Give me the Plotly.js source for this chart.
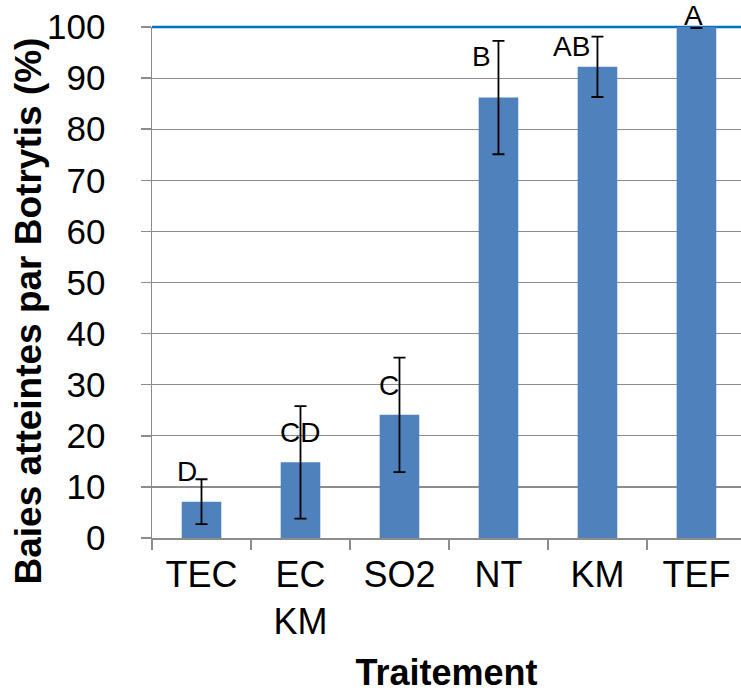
<!DOCTYPE html>
<html>
<head>
<meta charset="utf-8">
<script src="https://cdn.plot.ly/plotly-3.0.1.min.js"></script>
<style>html,body{margin:0;padding:0;background:#fff;}#chart{width:741px;height:693px;}</style>
</head>
<body>
<div id="chart"></div>
<script>
// Data
const categories = ["TEC", "EC<br>KM", "SO2", "NT", "KM", "TEF"];
const values = [7.1, 14.8, 24.1, 86.2, 92.2, 100];
const errors = [4.4, 11.0, 11.2, 11.1, 5.9, 0.2];
const letters = ["D", "CD", "C", "B", "AB", "A"];
const letterY = [13.0, 20.6, 29.8, 94.3, 96.2, 102.3];
const letterShift = [-14.5, 0, -10, -16.5, -25.5, -3];
const yTitle = "Baies atteintes par Botrytis (%)";
const xTitle = "Traitement";

const FONT = "Liberation Sans, Arial, sans-serif";
const GRID = "#8c8c8c";
const Y_MAX = 100;

const trace = {
  type: "bar",
  x: categories,
  y: values,
  width: 0.4,
  cliponaxis: false,
  marker: {color: "#4F81BD", line: {width: 0}},
  error_y: {type: "data", array: errors, visible: true, color: "#000", thickness: 1.8, width: 6},
  hoverinfo: "skip"
};

const annotations = letters.map((t, i) => ({
  x: i, y: letterY[i] / Y_MAX, xref: "x", yref: "paper",
  text: t, showarrow: false, xshift: letterShift[i],
  xanchor: "center", yanchor: "middle",
  font: {family: FONT, size: 28, color: "#000"}
}));
annotations.push({
  x: -0.209, y: 0.445, xref: "paper", yref: "paper",
  text: "<b>" + yTitle + "</b>", showarrow: false, textangle: -90,
  xanchor: "center", yanchor: "middle",
  font: {family: FONT, size: 37, color: "#000"}
});

const layout = {
  width: 741, height: 693, autosize: false,
  margin: {l: 152, r: 0, t: 27, b: 155, pad: 0},
  paper_bgcolor: "#fff", plot_bgcolor: "#fff",
  showlegend: false,
  font: {family: FONT, size: 36, color: "#000"},
  xaxis: {
    type: "category",
    range: [-0.5, 5.45],
    tickson: "boundaries", ticks: "outside", ticklen: 10, tickcolor: GRID, tickwidth: 1.5,
    showline: true, linecolor: GRID, linewidth: 1.5,
    showgrid: false, gridcolor: "rgba(0,0,0,0)", gridwidth: 0, zeroline: false,
    tickfont: {family: FONT, size: 36, color: "#000"},
    ticklabelstandoff: 4,
    title: {text: "<b>" + xTitle + "</b>", font: {family: FONT, size: 36, color: "#000"}, standoff: 20}
  },
  yaxis: {
    range: [0, Y_MAX], tick0: 0, dtick: 10,
    ticks: "outside", ticklen: 10, tickcolor: GRID, tickwidth: 1.5,
    showline: true, linecolor: GRID, linewidth: 1.5,
    showgrid: true, gridcolor: GRID, gridwidth: 1.2, zeroline: false,
    tickfont: {family: FONT, size: 35, color: "#000"},
    ticklabelstandoff: 28
  },
  shapes: [{type: "line", xref: "paper", yref: "paper", x0: 0, x1: 1, y0: 1, y1: 1,
            line: {color: "#0070C0", width: 2.5}, layer: "below"}],
  annotations: annotations
};

Plotly.newPlot("chart", [trace], layout, {displayModeBar: false, staticPlot: true});
</script>
</body>
</html>
